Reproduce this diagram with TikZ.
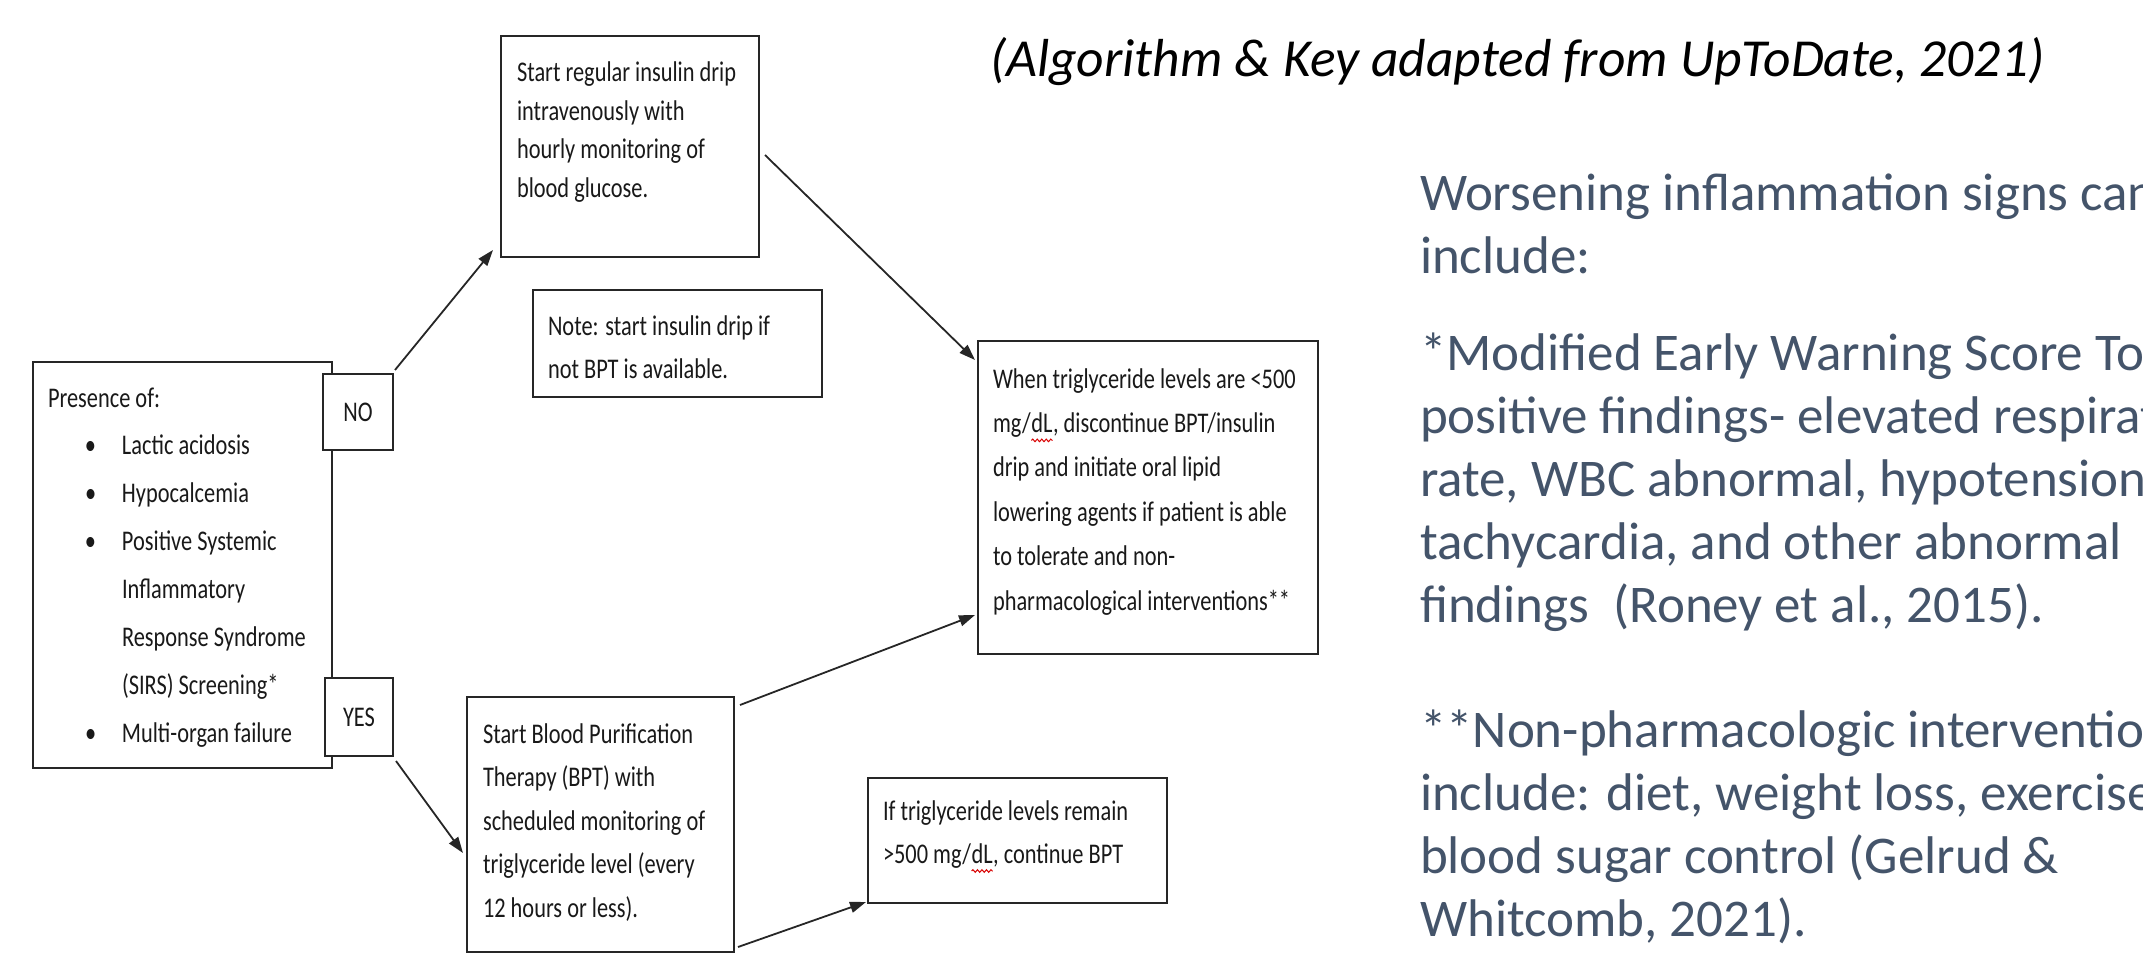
\documentclass[tikz,border=0pt]{standalone}
\usepackage{fontspec}
\setmainfont{Carlito}
\newfontfamily\flowfont[FakeStretch=0.785]{Carlito}
\usetikzlibrary{arrows.meta,decorations.pathmorphing}
\definecolor{keyblue}{HTML}{44546A}
\definecolor{boxline}{HTML}{262626}
\newcommand\flowtext[2]{\parbox[t]{500pt}{\flowfont\fontsize{28.5pt}{#1}\selectfont\raggedright #2}}
\newcommand\keytext[1]{\parbox[t]{900pt}{\fontsize{53pt}{63pt}\selectfont\raggedright #1}}
\newcommand\squig[1]{\tikz[baseline=(sq.base)]{\node[inner sep=0pt,outer sep=0pt] (sq) {#1};\draw[red!85!black,line width=1pt,decorate,decoration={snake,amplitude=1.3pt,segment length=4.5pt}] ([yshift=-8pt]sq.base west) -- ([yshift=-8pt]sq.base east);}}
\begin{document}
\begin{tikzpicture}[x=1pt,y=-1pt,
  box/.style={draw=boxline,line width=2.2pt,fill=white,inner sep=0pt,outer sep=0pt},
  txt/.style={inner sep=0pt,outer sep=0pt,anchor=base west,text=black!90},
  key/.style={txt,text=keyblue},
  lbl/.style={font=\flowfont\fontsize{28.5pt}{34pt}\selectfont,text=black!90},
  arr/.style={draw=boxline,line width=1.8pt,-{Triangle[length=16pt,width=11pt]}}]
\useasboundingbox (0,0) rectangle (2143,968);
\clip (0,0) rectangle (2143,968);

% boxes
\node[box,minimum width=299pt,minimum height=406pt] (pres) at (182.5,565) {};
\node[box,lbl,minimum width=70pt,minimum height=76pt] (no) at (358,412) {NO};
\node[box,lbl,minimum width=68pt,minimum height=78pt] (yes) at (359,717) {YES};
\node[box,minimum width=258pt,minimum height=221pt] (ins) at (630,146.5) {};
\node[box,minimum width=289pt,minimum height=107pt] (note) at (677.5,343.5) {};
\node[box,minimum width=340pt,minimum height=313pt] (trig) at (1148,497.5) {};
\node[box,minimum width=267pt,minimum height=255pt] (bpt) at (600.5,824.5) {};
\node[box,minimum width=299pt,minimum height=125pt] (rem) at (1017.5,840.5) {};

% box texts
\node[txt] (prest) at (48,407) {\flowtext{47.9pt}{Presence of:\\
\hspace*{37pt}\makebox[37pt][l]{\textbullet}Lactic acidosis\\
\hspace*{37pt}\makebox[37pt][l]{\textbullet}Hypocalcemia\\
\hspace*{37pt}\makebox[37pt][l]{\textbullet}Positive Systemic\\
\hspace*{74pt}Inflammatory\\
\hspace*{74pt}Response Syndrome\\
\hspace*{74pt}(SIRS) Screening*\\
\hspace*{37pt}\makebox[37pt][l]{\textbullet}Multi-organ failure}};
\node[txt] (inst) at (517,82) {\flowtext{38.5pt}{Start regular insulin drip\\intravenously with\\hourly monitoring of\\blood glucose.}};
\node[txt] (notet) at (548,335) {\flowtext{43pt}{Note: start insulin drip if\\not BPT is available.}};
\node[txt] (trigt) at (993,388) {\flowtext{44.4pt}{When triglyceride levels are <500\\mg/\squig{dL}, discontinue BPT/insulin\\drip and initiate oral lipid\\lowering agents if patient is able\\to tolerate and non-\\pharmacological interventions**}};
\node[txt] (bptt) at (483,743) {\flowtext{43.5pt}{Start Blood Purification\\Therapy (BPT) with\\scheduled monitoring of\\triglyceride level (every\\12 hours or less).}};
\node[txt] (remt) at (883,820) {\flowtext{43pt}{If triglyceride levels remain\\>500 mg/\squig{dL}, continue BPT}};

% key texts
\node[txt,text=black] (title) at (990,77) {\fontsize{53.5pt}{60pt}\selectfont\itshape (Algorithm \& Key adapted from UpToDate, 2021)};
\node[key] (keya) at (1420,211) {\keytext{Worsening inflammation signs can\\include:}};
\node[key] (keyb) at (1420,370) {\keytext{*Modified Early Warning Score To\\positive findings- elevated respirat\\rate, WBC abnormal, hypotension\\tachycardia, and other abnormal\\findings\ \ (Roney et al., 2015).}};
\node[key] (keyc) at (1420,747) {\keytext{**Non-pharmacologic interventio\\include: diet, weight loss, exercise\\blood sugar control (Gelrud \&\\Whitcomb, 2021).}};

% connectors
\draw[arr] ([shift={(2,-4)}]no.north east) -- ([shift={(-8,-7)}]ins.south west);
\draw[arr] ([shift={(6,8.5)}]ins.east) -- ([shift={(-3,19)}]trig.north west);
\draw[arr] ([shift={(6,8)}]bpt.north east) -- ([shift={(-3,-39)}]trig.south west);
\draw[arr] ([shift={(3,5)}]yes.south east) -- ([shift={(-4,28.5)}]bpt.west);
\draw[arr] ([shift={(4,-5)}]bpt.south east) -- ([shift={(-2,-1)}]rem.south west);
\end{tikzpicture}
\end{document}
